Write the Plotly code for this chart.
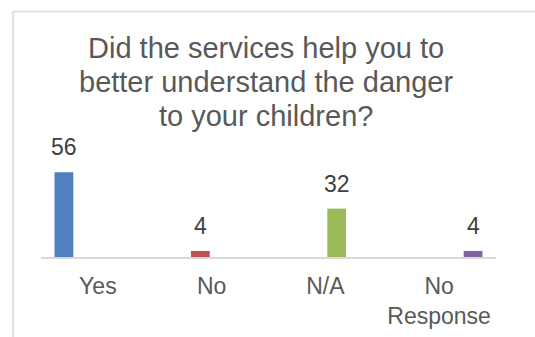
import plotly.graph_objects as go

# Survey answers and counts
categories = ["Yes", "No", "N/A", "No<br>Response"]
counts = [56, 4, 32, 4]
colors = ["#4F81BD", "#C0504D", "#9BBB59", "#8064A2"]
title_lines = ["Did the services help you to",
               "better understand the danger",
               "to your children?"]

W, H = 535, 337
ML, MR, MT, MB = 41, 39, 166, 80
BARGAP = 0.204
BARGROUPGAP = 0.17
FONT = "Liberation Sans, Arial, sans-serif"

fig = go.Figure()
n = len(categories)
for i, (cat, val, col) in enumerate(zip(categories, counts, colors)):
    # one series per answer, each keeping its own slot within the group
    fig.add_trace(go.Bar(x=[cat], y=[val], marker=dict(color=col, line=dict(width=0)),
                         alignmentgroup="answers", offsetgroup=str(i),
                         showlegend=False, hoverinfo="skip"))

# value labels, centred over each series' slot inside its category
slot = (1 - BARGAP) / n
for i, val in enumerate(counts):
    fig.add_annotation(x=i + (i - (n - 1) / 2) * slot, y=val, xref="x", yref="y",
                       text=str(val), showarrow=False, yanchor="bottom", yshift=10,
                       font=dict(family=FONT, size=23, color="#404040"))

plot_w, plot_h = W - ML - MR, H - MT - MB

# chart title, one line at a time for tighter leading
TITLE_CX, TITLE_Y0, TITLE_LEAD = 266, 48, 34
for k, line in enumerate(title_lines):
    fig.add_annotation(x=(TITLE_CX - ML) / plot_w,
                       y=(H - MB - (TITLE_Y0 + k * TITLE_LEAD)) / plot_h,
                       xref="paper", yref="paper", text=line, showarrow=False,
                       xanchor="center", yanchor="middle",
                       font=dict(family=FONT, size=29, color="#595959"))

# chart frame: only its left and top edges fall inside the page
left = (13 - ML) / plot_w
top = (H - MB - 11.5) / plot_h
frame = dict(color="#D9D9D9", width=1.5)
fig.add_shape(type="line", xref="paper", yref="paper",
              x0=left, x1=left, y0=-(MB + 20) / plot_h, y1=top, line=frame, layer="below")
fig.add_shape(type="line", xref="paper", yref="paper",
              x0=left, x1=(W + 20 - ML) / plot_w, y0=top, y1=top, line=frame, layer="below")

fig.update_layout(
    width=W, height=H,
    margin=dict(l=ML, r=MR, t=MT, b=MB),
    paper_bgcolor="white", plot_bgcolor="white",
    barmode="group", bargap=BARGAP, bargroupgap=BARGROUPGAP,
    xaxis=dict(showline=True, linecolor="#D9D9D9", linewidth=1.5, ticks="",
               showgrid=False, zeroline=False, ticklabelstandoff=8, automargin=False,
               tickfont=dict(family=FONT, size=23, color="#595959")),
    yaxis=dict(range=[0, plot_h / 1.512], visible=False, automargin=False,
               showgrid=False, zeroline=False),
)

fig.write_html("out.html")
